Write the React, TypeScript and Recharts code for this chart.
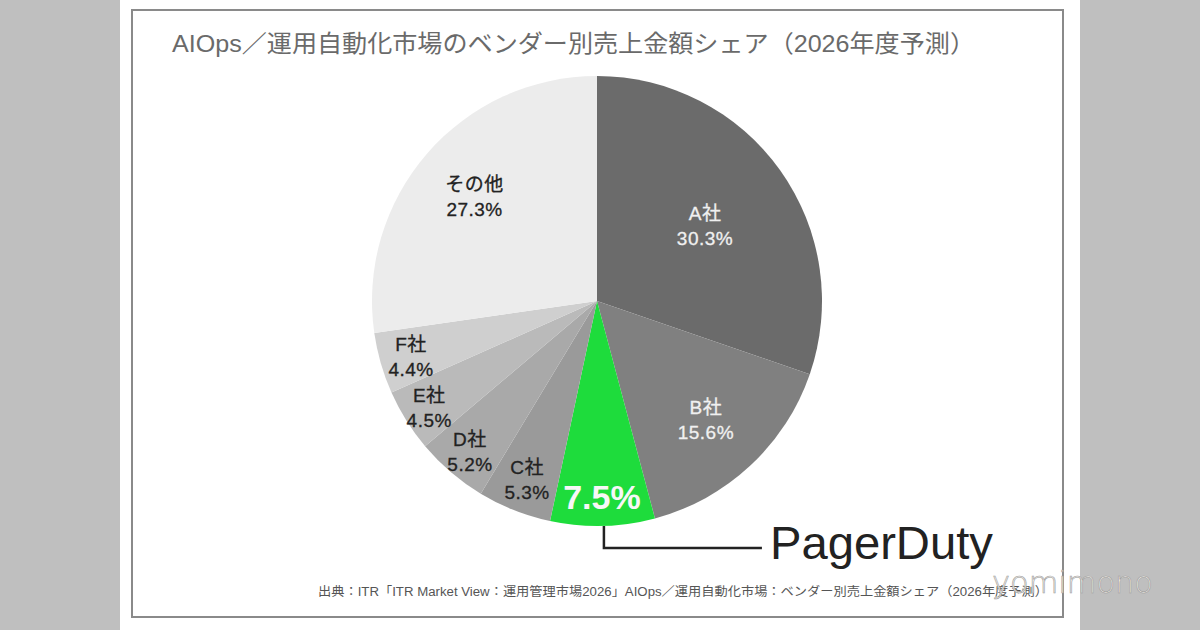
import { PieChart, Pie, Cell } from "recharts";

// vendor share of AIOps / automation market, FY2026 forecast (%)
const vendors = ["A社", "B社", "PagerDuty", "C社", "D社", "E社", "F社", "その他"];
const shares = [30.3, 15.6, 7.5, 5.3, 5.2, 4.5, 4.4, 27.3];

const title = "AIOps／運用自動化市場のベンダー別売上金額シェア（2026年度予測）";
const source =
  "出典：ITR「ITR Market View：運用管理市場2026」AIOps／運用自動化市場：ベンダー別売上金額シェア（2026年度予測）";

const data = vendors.map((name, i) => ({ name, value: shares[i] }));

const sliceColors: Record<string, string> = {
  "A社": "#6b6b6b",
  "B社": "#808080",
  PagerDuty: "#1edc3c",
  "C社": "#9a9a9a",
  "D社": "#a9a9a9",
  "E社": "#bababa",
  "F社": "#cfcfcf",
  "その他": "#ececec",
};

// label distance from centre, as a share of the radius
const labelRadius: Record<string, number> = {
  "A社": 0.59,
  "B社": 0.71,
  PagerDuty: 0.87,
  "C社": 0.845,
  "D社": 0.87,
  "E社": 0.88,
  "F社": 0.86,
  "その他": 0.72,
};

const RADIAN = Math.PI / 180;
const FONT = '"Liberation Sans", "Noto Sans CJK JP", sans-serif';

const renderLabel = (props: any) => {
  const { cx, cy, midAngle, outerRadius, name, value } = props;
  const r = outerRadius * (labelRadius[name] ?? 0.7);
  const x = cx + r * Math.cos(-midAngle * RADIAN);
  const y = cy + r * Math.sin(-midAngle * RADIAN);

  if (name === "PagerDuty") {
    const ex = x + 2;
    const ey = cy + outerRadius * Math.sin(-midAngle * RADIAN);
    return (
      <g>
        <text
          x={x}
          y={y}
          textAnchor="middle"
          dominantBaseline="central"
          fill="#f7f7f7"
          fontFamily={FONT}
          fontWeight="bold"
          fontSize={34}
        >
          {`${value.toFixed(1)}%`}
        </text>
        <polyline
          points={`${ex},${ey} ${ex},${ey + 22} ${ex + 158},${ey + 22}`}
          fill="none"
          stroke="#222"
          strokeWidth={2.5}
        />
        <text
          x={ex + 166}
          y={ey + 33}
          fill="#222"
          fontFamily={FONT}
          fontSize={46}
          textLength={223}
          lengthAdjust="spacingAndGlyphs"
        >
          PagerDuty
        </text>
      </g>
    );
  }

  const light = name === "A社" || name === "B社";
  return (
    <text
      x={x}
      y={y}
      textAnchor="middle"
      fill={light ? "#f0f0f0" : "#222"}
      stroke={light ? "#f0f0f0" : "#222"}
      strokeWidth={0.3}
      fontFamily={FONT}
      fontSize={19}
      letterSpacing={0.5}
    >
      <tspan x={x} dy={-4}>
        {name}
      </tspan>
      <tspan x={x} dy={25}>
        {`${value.toFixed(1)}%`}
      </tspan>
    </text>
  );
};

export default function App() {
  return (
    <div
      style={{
        position: "absolute",
        left: 0,
        top: 0,
        width: 1200,
        height: 630,
        background: "#bfbfbf",
        overflow: "hidden",
      }}
    >
      <div
        style={{
          position: "absolute",
          left: 120,
          top: 0,
          width: 960,
          height: 630,
          background: "#ffffff",
        }}
      />
      <div
        style={{
          position: "absolute",
          left: 131,
          top: 9,
          width: 929,
          height: 605,
          border: "2px solid #8a8a8a",
        }}
      />
      <div style={{ position: "absolute", left: 0, top: 0 }}>
        <PieChart width={1200} height={630} margin={{ top: 0, right: 0, bottom: 0, left: 0 }}>
          <text
            x={172}
            y={52}
            fill="#6a6a6a"
            fontFamily={FONT}
            fontSize={24}
            textLength={803}
            lengthAdjust="spacingAndGlyphs"
          >
            {title}
          </text>
          <Pie
            data={data}
            dataKey="value"
            nameKey="name"
            cx={597}
            cy={301}
            outerRadius={225}
            startAngle={90}
            endAngle={-270}
            stroke="none"
            label={renderLabel}
            labelLine={false}
            isAnimationActive={false}
          >
            {data.map((d) => (
              <Cell key={d.name} fill={sliceColors[d.name]} />
            ))}
          </Pie>
          <text
            x={318}
            y={596}
            fill="#555"
            fontFamily={FONT}
            fontSize={12.5}
            textLength={730}
            lengthAdjust="spacingAndGlyphs"
          >
            {source}
          </text>
          <text
            x={992}
            y={593}
            fill="#f6f2ec"
            stroke="#9a9a9a"
            strokeWidth={0.6}
            fontFamily={'"DejaVu Sans", sans-serif'}
            fontWeight={300}
            fontSize={31}
            textLength={161}
            lengthAdjust="spacingAndGlyphs"
          >
            yomimono
          </text>
        </PieChart>
      </div>
    </div>
  );
}
